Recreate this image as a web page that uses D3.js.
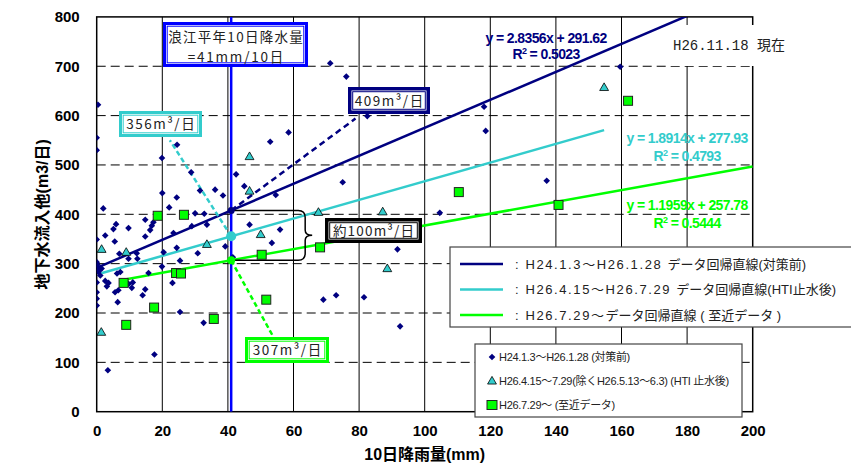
<!DOCTYPE html>
<html>
<head>
<meta charset="utf-8">
<script src="https://cdn.jsdelivr.net/npm/d3@7"></script>
<style>
  body { margin: 0; background: #fff; }
  svg { display: block; }
</style>
</head>
<body>
<div id="chart"></div>
<script>
// ---- data ----
// H24.1.3~H26.1.28 (before measures)
var preX = [0.4, 0, 0, 2, 19.9, 24.5, 28.8, 31.5, 36.1, 38.5, 20, 22.1, 24.4, 30, 14.8, 42.5, 52.9, 58.5, 45, 54.6,
            71.2, 76.1, 82.5, 118.1, 118.6, 75, 137.2, 104.6, 159.6, 91.7, 69.1, 73, 81.5, 92.5,
            0, 2.6, 5.5, 5.1, 5.9, 9.7, 16.8, 16.3, 14.8, 17.3, 6.9, 9.7, 12.4, 12.2, 0, 0, 0.5, 1.1, 6.2, 7.2,
            2.6, 3.6, 3.1, 5.6, 6.6, 9.7, 10.7, 11, 14.8, 14, 0, 0, 0, 6.4, 15.8, 20.4, 19.9, 23.4, 24.4, 25.4,
            23.1, 25.4, 17.6, 3.4, 29, 30.8, 32.6, 33.6, 39.2, 46.6, 55.9, 53.4, 41.5, 0.2, 0.8, 1.5, 0, 32.8];
var preY = [622, 555, 530, 412, 514, 541, 485, 448, 450, 438, 443, 414, 434, 402, 389, 481, 547, 566, 457, 439,
            706, 679, 599, 618, 569, 465, 468, 403, 699, 329, 227, 236, 232, 173,
            349, 357, 345, 370, 380, 372, 377, 368, 355, 384, 320, 310, 310, 321, 303, 292, 283, 276, 280, 283,
            265, 261, 254, 242, 246, 259, 251, 262, 248, 236, 242, 229, 215, 222, 281, 323, 294, 362, 332, 306,
            261, 202, 116, 84, 376, 321, 180, 379, 335, 379, 369, 342, 313, 298, 287, 290, 262, 401];
// H26.4.15~7.29 (after HTI cut-off)
var htiX = [1.5, 1.4, 9, 33.6, 46.6, 46.6, 50, 67.6, 87.2, 88.6, 154.7];
var htiY = [329, 161, 323, 339, 517, 447, 359, 404, 405, 290, 657];
// H26.7.29~ (recent data)
var recX = [18.6, 26.6, 8.2, 24.2, 25.7, 17.5, 9, 35.7, 50.3, 51.7, 68.1, 110.4, 140.8, 162];
var recY = [397, 399, 261, 281, 280, 211, 176, 188, 318, 227, 333, 445, 419, 630];

// regression lines: slope, intercept, R2, x extent
var fitSlope = [2.8356, 1.8914, 1.1959];
var fitIntercept = [291.62, 277.93, 257.78];
var fitR2 = ["0.5023", "0.4793", "0.5444"];
var fitFrom = [0, 1.4, 8.2];
var fitTo = [200, 154.7, 200];

var rain10 = 41;   // normal 10-day rainfall at Namie
var xTicks = [0, 20, 40, 60, 80, 100, 120, 140, 160, 180, 200];
var yTicks = [0, 100, 200, 300, 400, 500, 600, 700, 800];

var legendLines = [
  [": H24.1.3～H26.1.28 ", "データ回帰直線(対策前)"],
  [": H26.4.15～H26.7.29 ", "データ回帰直線(HTI止水後)"],
  [": H26.7.29～", "データ回帰直線 ( 至近データ )"]
];
var legendMarks = ["H24.1.3～H26.1.28 (対策前)", "H26.4.15～7.29(除くH26.5.13～6.3) (HTI 止水後)", "H26.7.29～ (至近データ)"];

var navy = "#000080", cyan = "#33cccc", green = "#00ff00", blue = "#0000ff";
var fitColor = [navy, cyan, green];
var latin = "'Liberation Sans', Arial, 'Noto Sans CJK JP', sans-serif";
var jp = "'Noto Sans CJK JP', sans-serif";

// ---- svg ----
var W = 851, H = 463;
var svg = d3.select("#chart").append("svg")
    .attr("width", W).attr("height", H);

var x = d3.scaleLinear().domain([0, 200]).range([96.7, 752.7]);
var y = d3.scaleLinear().domain([0, 800]).range([411.7, 16.9]);

svg.append("defs").append("clipPath").attr("id", "plot")
  .append("rect")
    .attr("x", x(0)).attr("y", y(800))
    .attr("width", x(200) - x(0)).attr("height", y(0) - y(800));

// grid
svg.append("g").selectAll("line")
  .data(xTicks.slice(1, -1)).enter().append("line")
    .attr("x1", d => x(d)).attr("x2", d => x(d))
    .attr("y1", y(0)).attr("y2", y(800))
    .attr("stroke", "#000").attr("stroke-width", 1);
svg.append("g").selectAll("line")
  .data(yTicks.slice(1, -1)).enter().append("line")
    .attr("x1", x(0)).attr("x2", x(200))
    .attr("y1", d => y(d)).attr("y2", d => y(d))
    .attr("stroke", "#000").attr("stroke-width", 1)
    .attr("stroke-dasharray", "9,5");

// plot frame
svg.append("rect")
    .attr("x", x(0)).attr("y", y(800))
    .attr("width", x(200) - x(0)).attr("height", y(0) - y(800))
    .attr("fill", "none").attr("stroke", "#000").attr("stroke-width", 1.5);

var plot = svg.append("g").attr("clip-path", "url(#plot)");

// regression lines
fitSlope.forEach(function(s, i) {
  var pts = [fitFrom[i], fitTo[i]].map(v => [v, s * v + fitIntercept[i]]);
  plot.append("path")
      .attr("d", d3.line().x(d => x(d[0])).y(d => y(d[1]))(pts))
      .attr("stroke", fitColor[i]).attr("stroke-width", 2.5).attr("fill", "none");
});

// normal 10-day rainfall
plot.append("line")
    .attr("x1", x(rain10)).attr("x2", x(rain10))
    .attr("y1", y(0)).attr("y2", y(800))
    .attr("stroke", blue).attr("stroke-width", 2.5);

// values at 41mm
var atRain = fitSlope.map((s, i) => s * rain10 + fitIntercept[i]);

// dashed leaders to labels
var leaderEnd = [[78.9, 594], [22.3, 550], [53.9, 151]];
var leaderDash = ["6,4", "5,3", "5,3"];
atRain.forEach(function(v, i) {
  plot.append("line")
      .attr("x1", x(rain10)).attr("y1", y(v))
      .attr("x2", x(leaderEnd[i][0])).attr("y2", y(leaderEnd[i][1]))
      .attr("stroke", fitColor[i]).attr("stroke-width", 2.5)
      .attr("stroke-dasharray", leaderDash[i]);
});

// bracket between before / recent
var x0 = x(rain10), xb = x(rain10) + 74, xt = xb + 7;
var y1 = y(atRain[0]), y2 = y(atRain[2]), ym = (y1 + y2) / 2;
svg.append("path")
    .attr("d", "M" + x0 + "," + y1 + " H" + (xb - 7) + " Q" + xb + "," + y1 + " " + xb + "," + (y1 + 7) +
               " V" + (ym - 5) + " Q" + xb + "," + ym + " " + xt + "," + ym +
               " Q" + xb + "," + ym + " " + xb + "," + (ym + 5) +
               " V" + (y2 - 7) + " Q" + xb + "," + y2 + " " + (xb - 7) + "," + y2 + " H" + x0)
    .attr("fill", "none").attr("stroke", "#000").attr("stroke-width", 1.5);

// points
var diamond = d3.symbol().type(d3.symbolSquare).size(22);
plot.append("g").selectAll("path")
  .data(preX.map((v, i) => [v, preY[i]])).enter().append("path")
    .attr("d", diamond)
    .attr("transform", d => "translate(" + x(d[0]) + "," + y(d[1]) + ") rotate(45)")
    .attr("fill", navy);

var tri = d3.symbol().type(d3.symbolTriangle).size(34);
plot.append("g").selectAll("path")
  .data(htiX.map((v, i) => [v, htiY[i]])).enter().append("path")
    .attr("d", tri)
    .attr("transform", d => "translate(" + x(d[0]) + "," + (y(d[1]) + 0.5) + ")")
    .attr("fill", cyan).attr("stroke", "#000").attr("stroke-width", 0.8);

svg.append("g").selectAll("rect")
  .data(recX.map((v, i) => [v, recY[i]])).enter().append("rect")
    .attr("x", d => x(d[0]) - 4.5).attr("y", d => y(d[1]) - 4.5)
    .attr("width", 9).attr("height", 9)
    .attr("fill", green).attr("stroke", "#222").attr("stroke-width", 1);

// dots at 41mm
var dotR = [3.5, 5, 4];
atRain.forEach(function(v, i) {
  svg.append("circle")
      .attr("cx", x(rain10)).attr("cy", y(v)).attr("r", dotR[i])
      .attr("fill", fitColor[i]);
});

// framed label boxes (double border)
function box(bx, by, w, h, color, thick) {
  var g = svg.append("g");
  g.append("rect").attr("x", bx).attr("y", by).attr("width", w).attr("height", h).attr("fill", color);
  g.append("rect").attr("x", bx + thick).attr("y", by + thick)
      .attr("width", w - 2 * thick).attr("height", h - 2 * thick).attr("fill", "#fff");
  g.append("rect").attr("x", bx + thick + 1.2).attr("y", by + thick + 1.2)
      .attr("width", w - 2 * thick - 2.4).attr("height", h - 2 * thick - 2.4)
      .attr("fill", "#fff").attr("stroke", color).attr("stroke-width", 1);
  return g;
}
// cx = centre, base = baseline
function boxText(g, cx, base, str, spacing, size) {
  g.append("text")
      .attr("x", cx + spacing / 2).attr("y", base)
      .attr("text-anchor", "middle")
      .attr("font-family", jp).attr("font-size", size || 13.5).attr("letter-spacing", spacing)
      .attr("fill", "#222").text(str);
}

var b = box(163, 22, 145, 45, blue, 3);
boxText(b, 235.5, 42, "浪江平年10日降水量", 1.3);
boxText(b, 235.5, 61.5, "=41mm/10日", 1.8);

boxText(box(348, 87, 82, 27, navy, 3.5), 389, 105.5, "409m³/日", 1.5);
boxText(box(119, 111, 83, 26, cyan, 3), 160.5, 129, "356m³/日", 1.5);
boxText(box(245, 337, 84, 26, green, 3), 287, 355, "307m³/日", 1.5);
boxText(box(325, 218, 97, 25, "#000", 3.5), 373.5, 235.5, "約100m³/日", 1.2);

// regression equations
var eqPos = [[137, 747, 715], [180, 544.5, 508], [180, 408.7, 372]];
fitSlope.forEach(function(s, i) {
  var p = eqPos[i];
  svg.append("text")
      .attr("x", x(p[0])).attr("y", y(p[1]))
      .attr("text-anchor", "middle")
      .attr("font-family", latin).attr("font-weight", "bold").attr("font-size", 14)
      .attr("letter-spacing", -0.6).attr("fill", fitColor[i])
      .text("y = " + s.toFixed(4) + "x + " + fitIntercept[i].toFixed(2));
  var t = svg.append("text")
      .attr("x", x(p[0])).attr("y", y(p[2]))
      .attr("text-anchor", "middle")
      .attr("font-family", latin).attr("font-weight", "bold").attr("font-size", 14)
      .attr("letter-spacing", -0.6).attr("fill", fitColor[i]);
  t.append("tspan").text("R");
  t.append("tspan").attr("dy", -5).attr("font-size", 9).text("2");
  t.append("tspan").attr("dy", 5).text(" = " + fitR2[i]);
});

// date stamp
svg.append("rect").attr("x", 670).attr("y", 25).attr("width", 120).attr("height", 41).attr("fill", "#fff");
svg.append("text")
    .attr("x", 673).attr("y", 50)
    .attr("font-family", "'Liberation Mono', 'Noto Sans CJK JP', monospace")
    .attr("font-size", 14).attr("fill", "#222")
    .text("H26.11.18 現在");

// legend: regression lines
var lg = svg.append("g").attr("transform", "translate(450,247)");
lg.append("rect").attr("width", 405).attr("height", 80)
    .attr("fill", "#fff").attr("stroke", "#444").attr("stroke-width", 1.2);
legendLines.forEach(function(t, i) {
  var ly = 17 + i * 25.5;
  lg.append("line").attr("x1", 10).attr("x2", 53).attr("y1", ly).attr("y2", ly)
      .attr("stroke", fitColor[i]).attr("stroke-width", 2.5);
  var tx = lg.append("text").attr("x", 65).attr("y", ly + 4.5)
      .attr("font-family", latin).attr("font-size", 13).attr("fill", "#222");
  tx.append("tspan").attr("letter-spacing", 1.6).text(t[0]);
  tx.append("tspan").text(t[1]);
});

// legend: markers
var lm = svg.append("g").attr("transform", "translate(475,344)");
lm.append("rect").attr("width", 267).attr("height", 73)
    .attr("fill", "#fff").attr("stroke", "#444").attr("stroke-width", 1.2);
legendMarks.forEach(function(t, i) {
  var ly = 13 + i * 24;
  if (i === 0) {
    lm.append("path").attr("d", diamond)
        .attr("transform", "translate(17," + ly + ") rotate(45)").attr("fill", navy);
  } else if (i === 1) {
    lm.append("path").attr("d", tri).attr("transform", "translate(17," + (ly + 0.5) + ")")
        .attr("fill", cyan).attr("stroke", "#000").attr("stroke-width", 0.8);
  } else {
    lm.append("rect").attr("x", 12).attr("y", ly - 4.5).attr("width", 10).attr("height", 9)
        .attr("fill", green).attr("stroke", "#222").attr("stroke-width", 1);
  }
  lm.append("text").attr("x", 24).attr("y", ly + 4)
      .attr("font-family", latin).attr("font-size", 11).attr("letter-spacing", -0.3)
      .attr("fill", "#222").text(t);
});

// axes
var xa = svg.append("g")
    .attr("transform", "translate(0," + y(0) + ")")
    .call(d3.axisBottom(x).tickValues(xTicks).tickSize(0).tickPadding(14));
var ya = svg.append("g")
    .attr("transform", "translate(" + x(0) + ",0)")
    .call(d3.axisLeft(y).tickValues(yTicks).tickSize(0).tickPadding(17));
[xa, ya].forEach(function(a) {
  a.select(".domain").remove();
  a.selectAll("text")
      .attr("font-family", latin).attr("font-weight", "bold")
      .attr("font-size", 15).attr("fill", "#000");
});

// axis titles
svg.append("text")
    .attr("x", (x(0) + x(200)) / 2).attr("y", 460)
    .attr("text-anchor", "middle")
    .attr("font-family", latin).attr("font-weight", "bold").attr("font-size", 16)
    .text("10日降雨量(mm)");
svg.append("text")
    .attr("transform", "translate(48," + (y(0) + y(800)) / 2 + ") rotate(-90)")
    .attr("text-anchor", "middle")
    .attr("font-family", latin).attr("font-weight", "bold").attr("font-size", 16)
    .text("地下水流入他(m3/日)");
</script>
</body>
</html>
